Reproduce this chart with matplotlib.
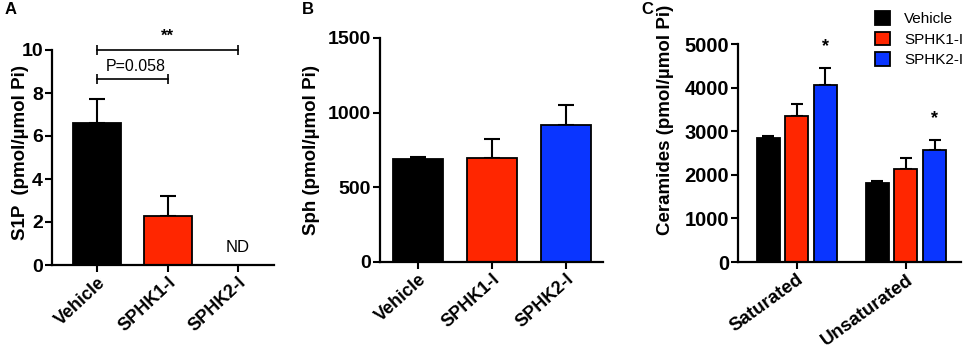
import matplotlib
matplotlib.use('Agg')
import matplotlib.pyplot as plt
import numpy as np

plt.rcParams['font.family'] = ['Liberation Sans', 'DejaVu Sans']

groups = ['Vehicle', 'SPHK1-I', 'SPHK2-I']
colors = ['#000000', '#ff2600', '#0a35ff']

# panel A: S1P
s1p_mean = [6.6, 2.28, 0.0]
s1p_err = [1.1, 0.92, 0.0]

# panel B: Sph
sph_mean = [692, 695, 918]
sph_err = [8, 130, 135]

# panel C: ceramides
cer_cats = ['Saturated', 'Unsaturated']
cer_mean = {'Vehicle': [2840, 1815],
            'SPHK1-I': [3340, 2140],
            'SPHK2-I': [4050, 2560]}
cer_err = {'Vehicle': [55, 35],
           'SPHK1-I': [290, 240],
           'SPHK2-I': [410, 240]}

W, H = 965, 353
fig = plt.figure(figsize=(W / 100, H / 100), dpi=100)


def px_axes(l, r, top, bot):
    return fig.add_axes([l / W, 1 - bot / H, (r - l) / W, (bot - top) / H])


def style(ax, size=14):
    for s in ['top', 'right']:
        ax.spines[s].set_visible(False)
    for s in ['left', 'bottom']:
        ax.spines[s].set_linewidth(1.6)
    ax.tick_params(width=1.5, length=5, labelsize=size, pad=1.5)
    for lab in ax.get_yticklabels():
        lab.set_fontweight('bold')


def xlabels(ax, labels, rot, size=13):
    ax.set_xticklabels(labels, rotation=rot, ha='right', rotation_mode='anchor',
                       fontsize=size, fontweight='bold')


# ---- A ----
axA = px_axes(52, 274, 50, 265)
x = np.arange(3)
axA.bar(x, s1p_mean, width=0.68, color=colors, edgecolor='black', linewidth=1.3, zorder=2)
axA.errorbar(x[:2], s1p_mean[:2], yerr=[[0, 0], s1p_err[:2]], fmt='none',
             ecolor='black', elinewidth=1.5, capsize=6, capthick=1.5, zorder=1)
axA.set_xlim(-0.64, 2.51)
axA.set_ylim(0, 10)
axA.set_yticks([0, 2, 4, 6, 8, 10])
axA.set_xticks(x)
style(axA)
xlabels(axA, groups, 43)
axA.text(2, 0.8, 'ND', ha='center', va='center', fontsize=12)
# significance brackets
axA.plot([0, 2], [10, 10], color='black', lw=1.2, clip_on=False, marker='|', markersize=7, mew=1.2)
axA.text(1, 10.62, '**', ha='center', va='center', fontsize=12, fontweight='bold')
axA.plot([0, 1], [8.64, 8.64], color='black', lw=1.2, clip_on=False, marker='|', markersize=7, mew=1.2)
axA.text(0.55, 9.22, 'P=0.058', ha='center', va='center', fontsize=11.5)

# ---- B ----
axB = px_axes(380, 603, 38, 262)
axB.bar(x, sph_mean, width=0.68, color=colors, edgecolor='black', linewidth=1.3, zorder=2)
axB.errorbar(x, sph_mean, yerr=[[0, 0, 0], sph_err], fmt='none',
             ecolor='black', elinewidth=1.5, capsize=6, capthick=1.5, zorder=1)
axB.set_xlim(-0.51, 2.5)
axB.set_ylim(0, 1500)
axB.set_yticks([0, 500, 1000, 1500])
axB.set_xticks(x)
style(axB)
xlabels(axB, groups, 42)

# ---- C ----
axC = px_axes(738, 961, 44, 262)
xc = np.arange(2)
bw = 0.21
offs = [-0.262, 0, 0.262]
for g, c, o in zip(groups, colors, offs):
    axC.bar(xc + o, cer_mean[g], width=bw, color=c, edgecolor='black',
            linewidth=1.3, zorder=2, label=g)
    axC.errorbar(xc + o, cer_mean[g], yerr=[[0, 0], cer_err[g]], fmt='none',
                 ecolor='black', elinewidth=1.5, capsize=4, capthick=1.5, zorder=1)
for i in range(2):
    top = cer_mean['SPHK2-I'][i] + cer_err['SPHK2-I'][i]
    axC.text(xc[i] + offs[2], top + 480, '*', ha='center', va='center',
             fontsize=13, fontweight='bold')
axC.set_xlim(-0.54, 1.505)
axC.set_ylim(0, 5000)
axC.set_yticks([0, 1000, 2000, 3000, 4000, 5000])
axC.set_xticks(xc)
style(axC, 14.5)
xlabels(axC, cer_cats, 36, 13.5)
leg = axC.legend(loc='upper left', bbox_to_anchor=((869 - 738) / 223, (262 - 5) / 218),
                 frameon=False, fontsize=11, handlelength=1.0, handleheight=1.0,
                 handletextpad=0.9, labelspacing=0.35, borderaxespad=0)

# y labels and panel letters
fig.text(21 / W, 1 - 152 / H, 'S1P  (pmol/µmol Pi)', rotation=90, ha='center', va='center',
         fontsize=13.5, fontweight='bold')
fig.text(311 / W, 1 - 150 / H, 'Sph (pmol/µmol Pi)', rotation=90, ha='center', va='center',
         fontsize=13.5, fontweight='bold')
fig.text(665 / W, 1 - 120 / H, 'Ceramides (pmol/µmol Pi)', rotation=90, ha='center', va='center',
         fontsize=13.5, fontweight='bold')
for lab, xp in [('A', 5), ('B', 302), ('C', 641)]:
    fig.text(xp / W, 1 - 2 / H, lab, ha='left', va='top', fontsize=12, fontweight='bold')

fig.savefig('out.png', dpi=100)
